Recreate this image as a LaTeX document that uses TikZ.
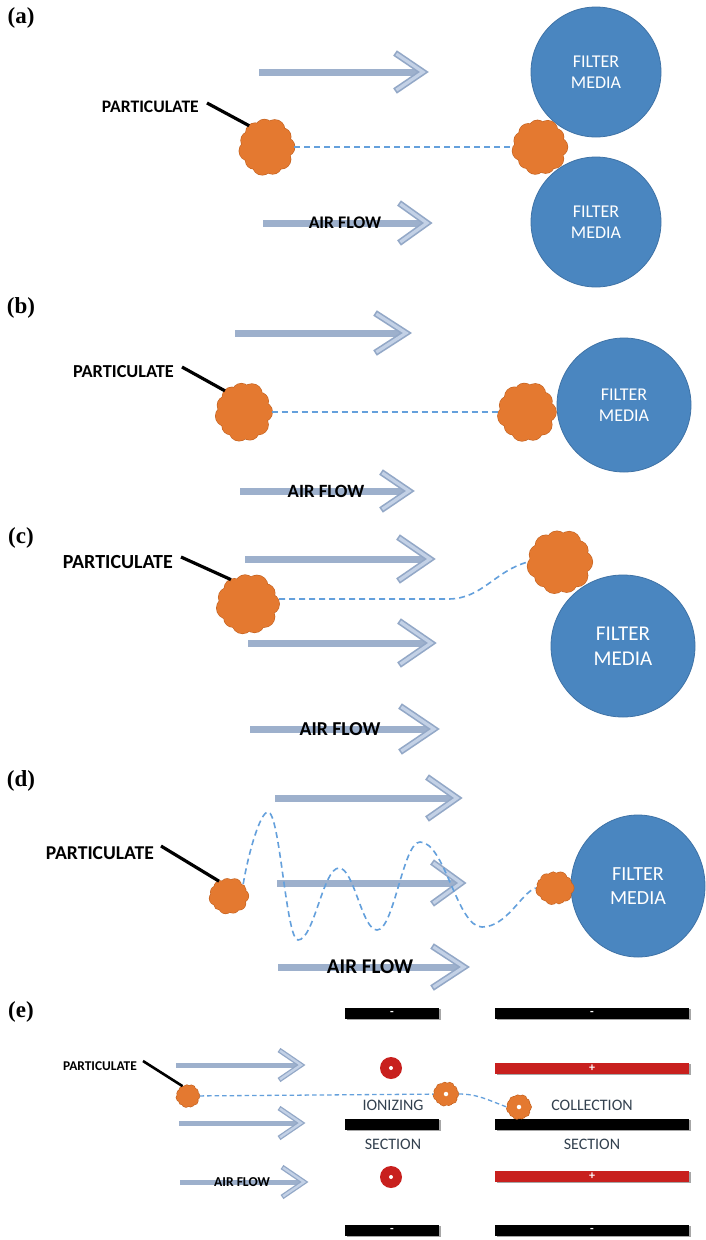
\documentclass[tikz,border=0pt]{standalone}
\usepackage{fontspec}
\setmainfont{Carlito}
\newfontfamily\panelfont{Liberation Serif}
\usetikzlibrary{shapes.geometric,shadows}

\definecolor{shaftcol}{HTML}{9DB0CC}
\definecolor{arrowdark}{HTML}{93A8C7}
\definecolor{arrowlight}{HTML}{C3D1E6}
\definecolor{blobfill}{HTML}{E47930}
\definecolor{blobedge}{HTML}{C46220}
\definecolor{filterfill}{HTML}{4A86C0}
\definecolor{filteredge}{HTML}{3E72A6}
\definecolor{dashcol}{HTML}{64A0DC}
\definecolor{plusred}{HTML}{C8201E}
\definecolor{sectiontext}{HTML}{33414F}

% font size with a proportional line spacing
\newcommand\fsz[1]{\fontsize{#1pt}{\dimexpr #1pt*118/100\relax}\selectfont}

% air-flow arrow: name, x start, x tip, y, head depth, head half-height
\newcommand\flowarrow[6]{%
  \coordinate (#1s) at (#2,-#4);
  \coordinate (#1t) at (#3,-#4);
  \draw[shaft] (#1s) -- ([xshift=-4pt]#1t);
  \draw[chevout] ([shift={(-#5,#6)}]#1t) -- (#1t) -- ([shift={(-#5,-#6)}]#1t);
  \draw[chevin] ([shift={(-#5,#6)}]#1t) -- (#1t) -- ([shift={(-#5,-#6)}]#1t);
}

% lumpy particle: name, x, y (downwards), width, height
\newcommand\puffs{0/1.00, 33/0.90, 65/1.06, 98/0.93, 130/1.00, 160/0.94,
  192/1.05, 225/0.90, 255/1.02, 288/0.95, 320/1.03}
\newcommand\particle[5]{%
  \node[blob, minimum width=#4pt, minimum height=#5pt] (#1) at (#2,-#3) {};
  \foreach \a/\k in \puffs
    \draw[blobedge, line width=1.2pt]
      ([shift={(\a:{0.34*#4} and {0.34*#5})}]#1.center) circle ({0.085*\k*(#4+#5)});
  \fill[blobfill] (#1.center) ellipse ({0.37*#4} and {0.37*#5});
  \foreach \a/\k in \puffs
    \fill[blobfill]
      ([shift={(\a:{0.34*#4} and {0.34*#5})}]#1.center) circle ({0.085*\k*(#4+#5)});
}

\tikzset{
  shaft/.style={draw=shaftcol, line width=7pt},
  chevout/.style={draw=arrowdark, line width=6.5pt, line join=miter},
  chevin/.style={draw=arrowlight, line width=3.2pt, line join=miter, shorten <=1.6pt, shorten >=1.6pt},
  blob/.style={ellipse, inner sep=0pt},
  filter/.style={ellipse, fill=filterfill, draw=filteredge, line width=0.8pt, text=white,
    align=center, inner sep=0pt},
  plabel/.style={anchor=east, inner sep=0pt},
  flowlabel/.style={inner sep=0pt},
  leader/.style={line width=3.2pt, black},
  track/.style={draw=dashcol, line width=1.6pt, dash pattern=on 6pt off 4pt},
  panel/.style={font=\panelfont\bfseries\fontsize{23}{26}\selectfont, inner sep=0pt},
  plate/.style={rectangle, inner sep=0pt, minimum height=11pt, text=white,
    font=\fontsize{12}{12}\selectfont\bfseries,
    drop shadow={shadow xshift=1.5pt, shadow yshift=-1.5pt, opacity=.35, fill=black}},
  negplate/.style={plate, fill=black},
  posplate/.style={plate, fill=plusred},
  wire/.style={circle, fill=plusred, minimum size=22pt, inner sep=0pt},
  sectionlabel/.style={text=sectiontext, font=\fsz{16}, inner sep=0pt},
  charge/.style={circle, fill=white, minimum size=4.5pt, inner sep=0pt},
}

\begin{document}
\begin{tikzpicture}[x=1pt, y=1pt]
\useasboundingbox[fill=white] (0,0) rectangle (705,-1240);

% ---------------- (a) interception between two filter fibres
\node[panel] (la) at (21,-18) {(a)};
\flowarrow{fa1}{259}{423}{72}{28}{19}
\flowarrow{fa2}{263}{427}{223}{28}{20}
\node[flowlabel, font=\bfseries\fsz{17.7}] (afa) at (345,-223) {AIR FLOW};
\node[filter, minimum width=130pt, minimum height=130pt, font=\fsz{18}] (ma1) at (596,-72) {FILTER\\MEDIA};
\node[filter, minimum width=130pt, minimum height=130pt, font=\fsz{18}] (ma2) at (596,-222) {FILTER\\MEDIA};
\particle{pa1}{267}{147}{54}{56}
\particle{pa2}{540}{147}{54}{54}
\draw[track] (pa1) -- (pa2);
\node[plabel, font=\bfseries\fsz{17.6}] (ta) at (199,-107) {PARTICULATE};
\draw[leader] ([shift={(8,4)}]ta.east) -- (pa1.130);

% ---------------- (b) impaction on a single fibre
\node[panel] (lb) at (21,-308) {(b)};
\flowarrow{fb1}{235}{406}{333}{31}{20}
\flowarrow{fb2}{240}{409}{491}{28}{19}
\node[flowlabel, font=\bfseries\fsz{18.7}] (afb) at (326,-491) {AIR FLOW};
\node[filter, minimum width=134pt, minimum height=134pt, font=\fsz{18}] (mb) at (624,-405) {FILTER\\MEDIA};
\particle{pb1}{244}{412}{55}{58}
\particle{pb2}{527}{412}{57}{58}
\draw[track] (pb1) -- (pb2);
\node[plabel, font=\bfseries\fsz{18.3}] (tb) at (174,-372) {PARTICULATE};
\draw[leader] ([shift={(8,5)}]tb.east) -- (pb1.132);

% ---------------- (c) interception with a bent path
\node[panel] (lc) at (21,-538) {(c)};
\flowarrow{fc1}{245}{430}{559}{32}{22}
\flowarrow{fc2}{248}{431}{643}{32}{22}
\flowarrow{fc3}{250}{434}{729}{34}{23}
\node[flowlabel, font=\bfseries\fsz{19.7}] (afc) at (340,-729) {AIR FLOW};
\node[filter, minimum width=144pt, minimum height=142pt, font=\fsz{21}] (mc) at (623,-646) {FILTER\\MEDIA};
\particle{pc1}{248}{604}{62}{58}
\particle{pc2}{560}{562}{64}{62}
\coordinate (cbend) at (448,-599);
\draw[track] (pc1.east |- cbend) -- (cbend) to[out=0, in=195] (pc2.west);
\node[plabel, font=\bfseries\fsz{20}] (tc) at (173,-562) {PARTICULATE};
\draw[leader] ([shift={(8,5)}]tc.east) -- (pc1.125);

% ---------------- (d) diffusion
\node[panel] (ld) at (21,-781) {(d)};
\flowarrow{fd1}{275}{457}{798}{30}{21}
\flowarrow{fd2}{277}{461}{883}{29}{21}
\flowarrow{fd3}{278}{464}{967}{32}{21}
\node[flowlabel, font=\bfseries\fsz{21}] (afd) at (370,-967) {AIR FLOW};
\node[filter, minimum width=134pt, minimum height=142pt, font=\fsz{20}] (md) at (638,-886) {FILTER\\MEDIA};
\particle{pd1}{229}{896}{39}{34}
\particle{pd2}{555}{888}{38}{31}
\draw[track] (pd1.40) .. controls +(5,30) and +(-8,0) .. (268,-812)
  .. controls +(12,0) and +(-12,0) .. (298,-940)
  .. controls +(16,0) and +(-16,0) .. (339,-868)
  .. controls +(15,0) and +(-15,0) .. (377,-930)
  .. controls +(17,0) and +(-17,0) .. (420,-842)
  .. controls +(25,0) and +(-25,0) .. (482,-927)
  .. controls +(25,0) and +(-14,-4) .. (pd2.west);
\node[plabel, font=\bfseries\fsz{19.6}] (td) at (154,-853) {PARTICULATE};
\draw[leader] ([shift={(7,7)}]td.east) -- (pd1.124);

% ---------------- (e) electrostatic precipitation
\node[panel] (le) at (21,-1012) {(e)};
\begin{scope}[shaft/.append style={line width=5pt},
              chevout/.append style={line width=5pt},
              chevin/.append style={line width=2.4pt, shorten <=1.3pt, shorten >=1.3pt}]
\flowarrow{fe1}{176}{301}{1065}{22}{15}
\flowarrow{fe2}{179}{301}{1123}{22}{15}
\flowarrow{fe3}{180}{304}{1182}{22}{15}
\end{scope}
\node[flowlabel, font=\bfseries\fsz{13.6}] (afe) at (242,-1182) {AIR FLOW};

% ionizing section: ground plates and charged wires
\node[negplate, minimum width=94pt] (ig1) at (392,-1013) {-};
\node[wire] (iw1) at (391,-1068) {};
\node[negplate, minimum width=94pt] (ig2) at (392,-1124) {};
\node[wire] (iw2) at (391,-1177) {};
\node[negplate, minimum width=94pt] (ig3) at (392,-1230) {-};
\node[charge, minimum size=4pt] (iw1c) at (iw1) {};
\node[charge, minimum size=4pt] (iw2c) at (iw2) {};

% collection section: alternating plates
\node[negplate, minimum width=194pt] (cg1) at (592,-1013) {-};
\node[posplate, minimum width=194pt] (cp1) at (592,-1068) {+};
\node[negplate, minimum width=194pt] (cg2) at (592,-1124) {};
\node[posplate, minimum width=194pt] (cp2) at (592,-1176) {+};
\node[negplate, minimum width=194pt] (cg3) at (592,-1230) {-};

\node[sectionlabel] (ion) at (393,-1105) {IONIZING};
\node[sectionlabel] (ions) at (393,-1144) {SECTION};
\node[sectionlabel] (col) at (592,-1105) {COLLECTION};
\node[sectionlabel] (cols) at (592,-1144) {SECTION};

\particle{pe1}{188}{1096}{23}{22}
\particle{pe2}{446}{1094}{25}{23}
\particle{pe3}{519}{1107}{24}{24}
\node[charge] (pe2c) at (pe2) {};
\node[charge] (pe3c) at (pe3) {};
\draw[track, line width=1.3pt, dash pattern=on 4.5pt off 3pt] (pe1) -- (pe2);
\draw[track, line width=1.3pt, dash pattern=on 4.5pt off 3pt] (pe2.east) to[out=0, in=160] (pe3.west);
\node[plabel, font=\bfseries\fsz{13.4}] (te) at (137,-1066) {PARTICULATE};
\draw[leader, line width=2.6pt] ([shift={(6,5)}]te.east) -- (pe1.119);
\end{tikzpicture}
\end{document}
